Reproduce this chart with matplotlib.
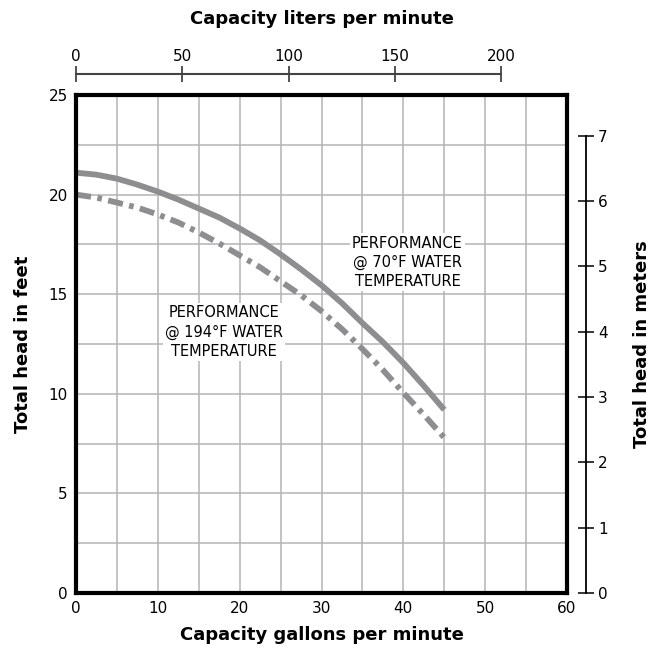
import matplotlib
matplotlib.use('Agg')
import matplotlib.pyplot as plt
import numpy as np

# Pump curves (gpm vs feet of head)
gpm = [0, 2.5, 5, 7.5, 10, 12.5, 15, 17.5, 20, 22.5, 25, 27.5, 30, 32.5, 35, 37.5, 40, 42.5, 45]
head_70f = [21.1, 21.0, 20.8, 20.5, 20.15, 19.75, 19.3, 18.85, 18.3, 17.7, 17.0, 16.25,
            15.45, 14.55, 13.55, 12.6, 11.55, 10.4, 9.2]
head_194f = [20.0, 19.85, 19.6, 19.35, 19.0, 18.6, 18.1, 17.55, 16.95, 16.35, 15.65, 14.95,
             14.15, 13.25, 12.25, 11.2, 10.05, 8.95, 7.8]

x_ticks = [0, 10, 20, 30, 40, 50, 60]
y_ticks = [0, 5, 10, 15, 20, 25]
lpm_ticks = [0, 50, 100, 150, 200]
meter_ticks = [0, 1, 2, 3, 4, 5, 6, 7]

lpm_per_gpm = 3.85
ft_per_m = 3.28

curve_col = '#8e8e90'
grid_col = '#b4b4b4'
plt.rcParams['font.family'] = ['DejaVu Sans']

W, H = 660, 654
fig = plt.figure(figsize=(W / 100, H / 100), dpi=100)

left, right, top, bottom = 76, 567, 95, 593
ax = fig.add_axes([left / W, 1 - bottom / H, (right - left) / W, (bottom - top) / H])
ax.set_xlim(0, 60)
ax.set_ylim(0, 25)
ax.set_xticks(np.arange(0, 61, 5), minor=True)
ax.set_yticks(np.arange(0, 25.1, 2.5), minor=True)
ax.set_xticks(x_ticks)
ax.set_yticks(y_ticks)
ax.grid(True, which='both', color=grid_col, lw=1.1)
ax.set_axisbelow(True)
ax.tick_params(which='both', length=0, labelsize=11, pad=6)
for s in ax.spines.values():
    s.set_linewidth(3)
    s.set_color('black')

ax.plot(gpm, head_70f, color=curve_col, lw=4.2, solid_capstyle='butt', solid_joinstyle='round')
ax.plot(gpm, head_194f, color=curve_col, lw=4.2, dash_capstyle='butt',
        linestyle=(0, (2.6, 1.1, 0.8, 1.1)))

box = dict(facecolor='white', edgecolor='none', pad=1.5)
ax.text(40.5, 16.6, 'PERFORMANCE\n@ 70°F WATER\nTEMPERATURE', ha='center', va='center',
        fontsize=10.5, linespacing=1.35, bbox=box)
ax.text(18.1, 13.1, 'PERFORMANCE\n@ 194°F WATER\nTEMPERATURE', ha='center', va='center',
        fontsize=10.5, linespacing=1.35, bbox=box)

ax.set_xlabel('Capacity gallons per minute', fontsize=13, fontweight='bold', labelpad=7)
ax.set_ylabel('Total head in feet', fontsize=13, fontweight='bold', labelpad=12)

# top scale: liters per minute
top_y = 74
axt = fig.add_axes([left / W, 1 - top_y / H, (right - left) / W, 0.0001])
axt.set_xlim(0, 60 * lpm_per_gpm)
axt.set_ylim(0, 1)
for k in ['left', 'right', 'bottom']:
    axt.spines[k].set_visible(False)
axt.spines['top'].set_bounds(0, 200)
axt.spines['top'].set_color('#444444')
axt.spines['top'].set_linewidth(1.5)
axt.set_yticks([])
axt.set_xticks(lpm_ticks)
axt.tick_params(axis='x', top=True, labeltop=True, bottom=False, labelbottom=False,
                direction='inout', length=11, width=1.3, color='#444444', labelsize=11, pad=2)
axt.patch.set_visible(False)
axt.set_title('Capacity liters per minute', fontsize=13, fontweight='bold', pad=36)

# right scale: meters
right_x = 586
axr = fig.add_axes([right_x / W, 1 - bottom / H, 0.0001, (bottom - top) / H])
axr.set_ylim(0, 25 / ft_per_m)
axr.set_xlim(0, 1)
for k in ['right', 'top', 'bottom']:
    axr.spines[k].set_visible(False)
axr.spines['left'].set_bounds(0, 7)
axr.spines['left'].set_linewidth(1.3)
axr.set_xticks([])
axr.set_yticks(meter_ticks)
axr.tick_params(axis='y', left=True, labelleft=False, right=False, labelright=True,
                direction='inout', length=11, width=1.1, labelsize=11, pad=3)
axr.patch.set_visible(False)
axr.yaxis.set_label_position('right')
axr.set_ylabel('Total head in meters', fontsize=13, fontweight='bold', labelpad=18)

fig.savefig('out.png', dpi=100)
